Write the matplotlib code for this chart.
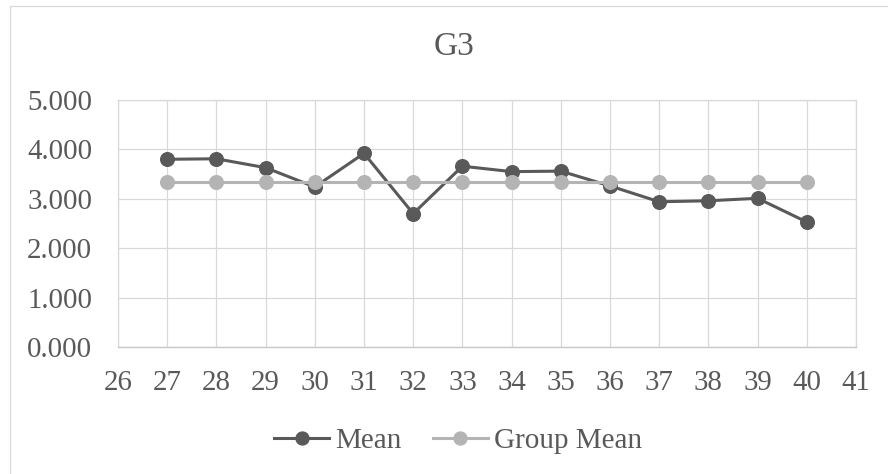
import matplotlib
matplotlib.use("Agg")
import matplotlib.pyplot as plt
from matplotlib.patches import Rectangle
from matplotlib.ticker import FormatStrFormatter, MultipleLocator

# Data
items = [27, 28, 29, 30, 31, 32, 33, 34, 35, 36, 37, 38, 39, 40]
mean_scores = [3.80, 3.81, 3.63, 3.24, 3.92, 2.70, 3.66, 3.55, 3.56, 3.26, 2.94, 2.96, 3.01, 2.53]
group_mean = [3.33] * len(items)

TEXT = "#595959"
DARK = "#595959"
LIGHT = "#b4b4b4"
GRID = "#d9d9d9"

plt.rcParams["font.family"] = ["Liberation Serif", "DejaVu Serif"]

fig = plt.figure(figsize=(8.88, 4.74), dpi=100)
W, H = 888, 474

# outer chart frame
fig.add_artist(Rectangle((10 / W, -0.1), 2.0, 1 - 6.5 / H + 0.1,
                         transform=fig.transFigure, fill=False,
                         ec=GRID, lw=0.9))

ax = fig.add_axes([118 / W, 1 - 347 / H, (856 - 118) / W, (347 - 100) / H])

ax.plot(items, mean_scores, color=DARK, lw=2.2, marker="o", ms=9.8,
        label="Mean", zorder=3)
ax.plot(items, group_mean, color=LIGHT, lw=2.2, marker="o", ms=9.8,
        label="Group Mean", zorder=4)

ax.set_xlim(26, 41)
ax.set_ylim(0, 5)
ax.xaxis.set_major_locator(MultipleLocator(1))
ax.yaxis.set_major_locator(MultipleLocator(1))
ax.yaxis.set_major_formatter(FormatStrFormatter("%.3f"))

ax.grid(True, color=GRID, lw=0.9)
ax.set_axisbelow(True)
for side in ["top", "left", "right"]:
    ax.spines[side].set_color(GRID)
    ax.spines[side].set_linewidth(0.9)
ax.spines["bottom"].set_color("#c8c8c8")
ax.spines["bottom"].set_linewidth(1.0)

ax.tick_params(axis="both", length=0, labelsize=20.8, colors=TEXT)
ax.tick_params(axis="y", pad=18.5)
ax.tick_params(axis="x", pad=16.5)

fig.text(454 / W, 1 - 47 / H, "G3", ha="center", va="center",
         fontsize=24, color=TEXT)

fig.legend(loc="center", bbox_to_anchor=(458 / W, 1 - 441 / H), ncol=2,
           frameon=False, fontsize=21, handlelength=1.9, handletextpad=0.2,
           columnspacing=1.07, labelcolor=TEXT, markerscale=0.95)

fig.savefig("out.png", dpi=100)
